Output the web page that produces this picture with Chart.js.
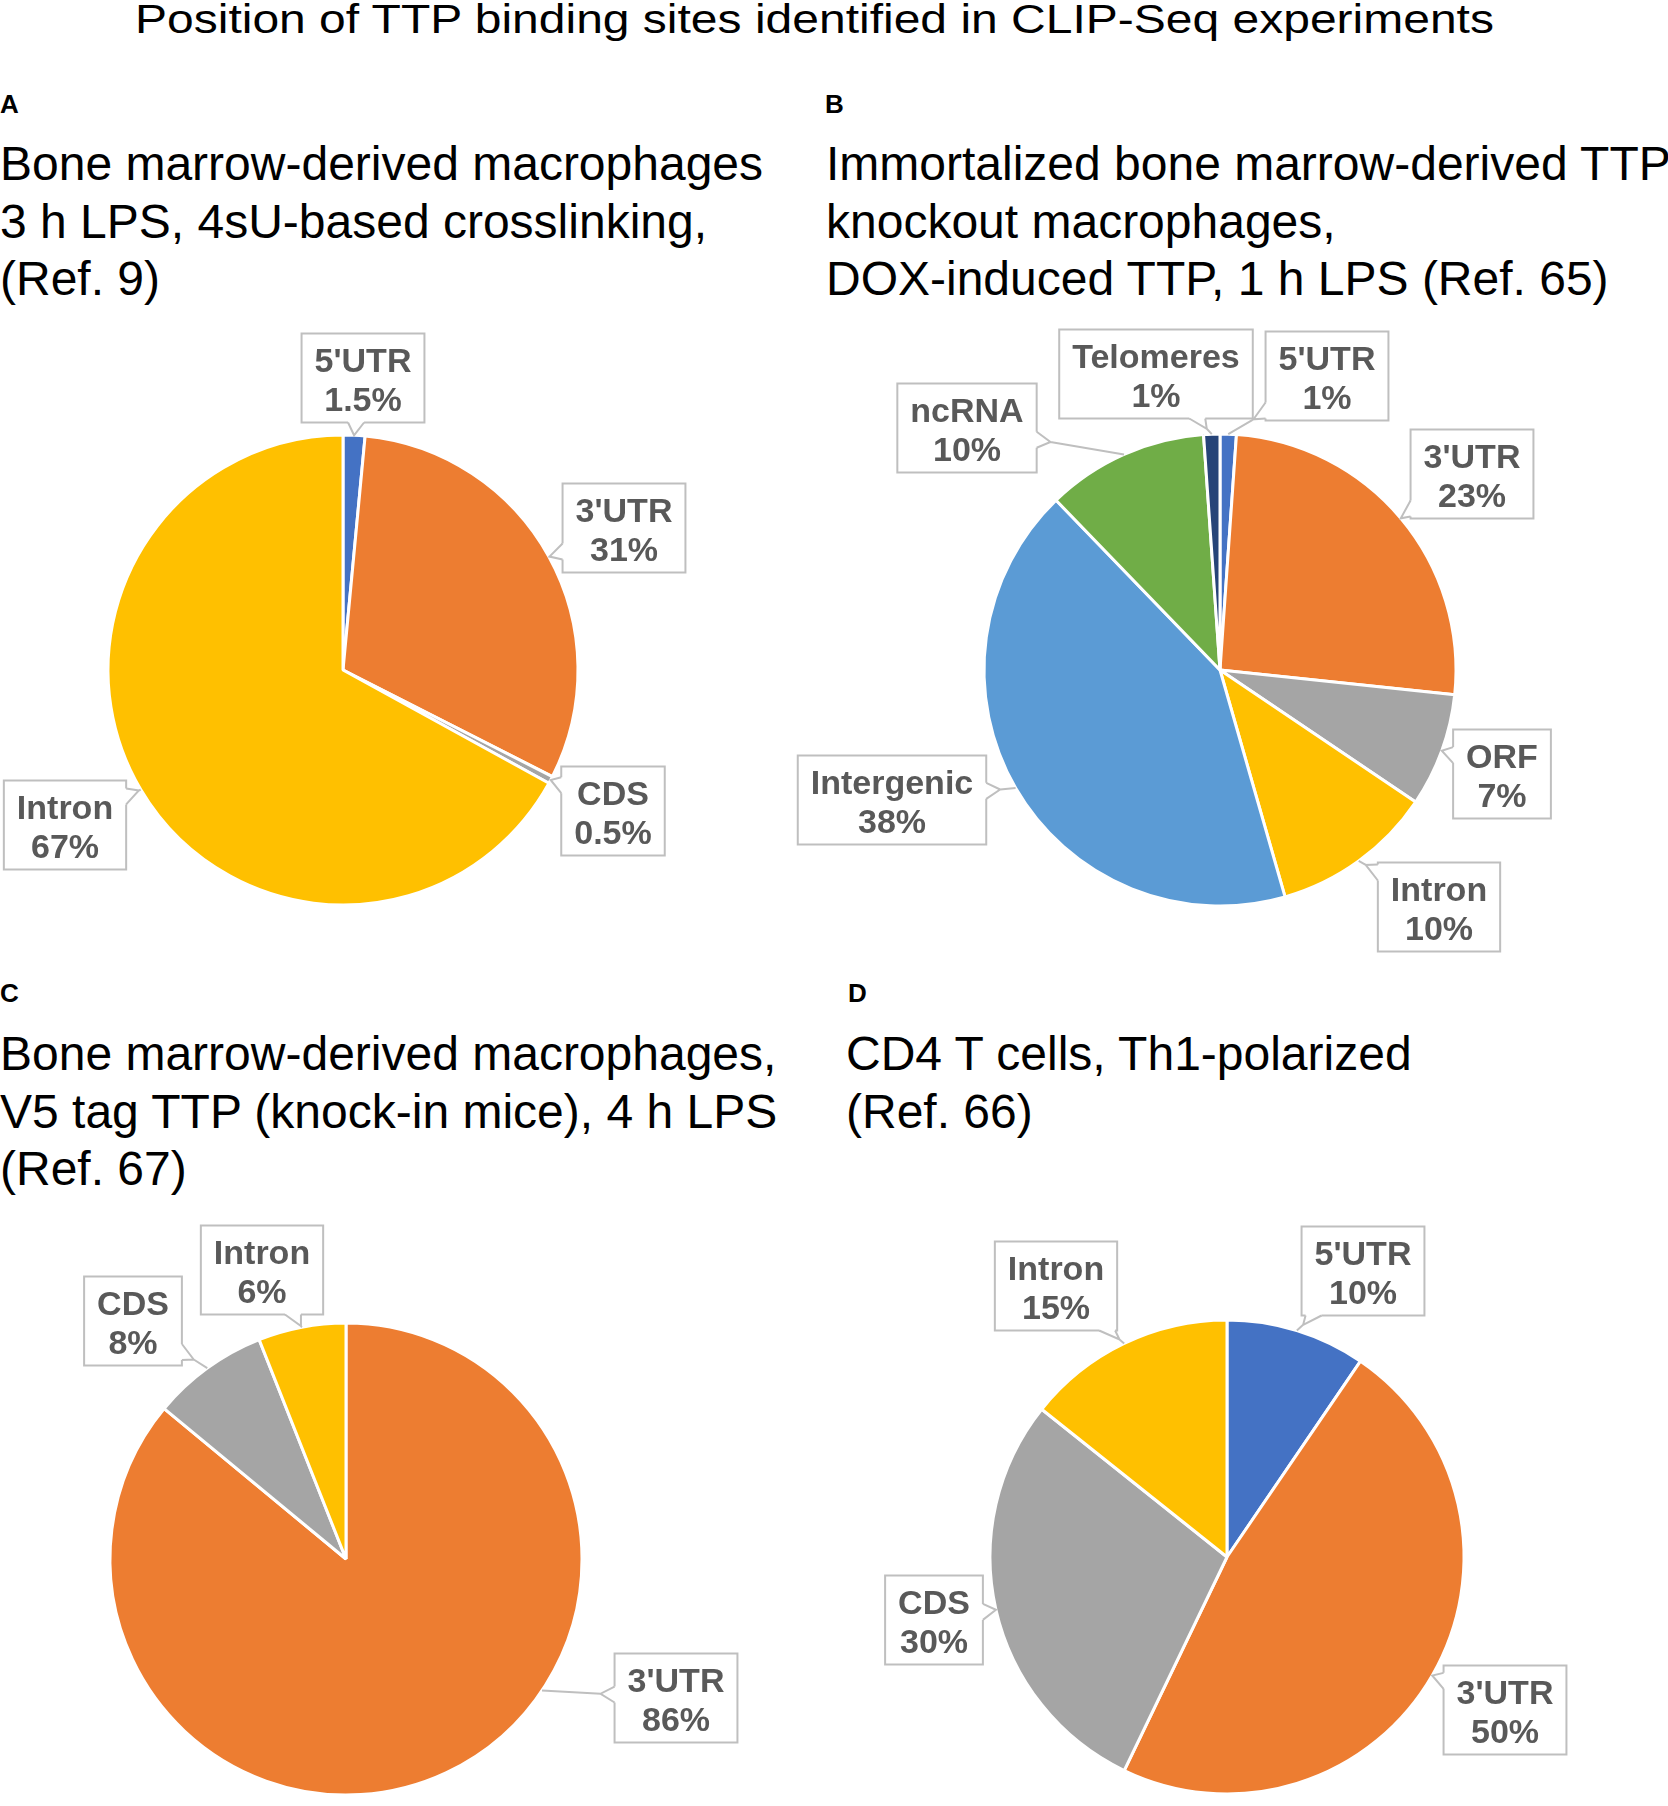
<!DOCTYPE html>
<html>
<head>
<meta charset="utf-8">
<script src="https://cdn.jsdelivr.net/npm/chart.js@4.4.1/dist/chart.umd.min.js"></script>
<style>
  html, body { margin: 0; padding: 0; background: #fff; }
  #page { position: relative; width: 1668px; height: 1806px; overflow: hidden; font-family: "Liberation Sans", Arial, sans-serif; color: #000; }
  .main { position: absolute; left: 135px; top: -12px; font-size: 48px; line-height: 57.5px; white-space: nowrap; transform: scaleY(0.86); transform-origin: 0 45px; }
  .letter { position: absolute; font-size: 26px; line-height: 26px; font-weight: bold; }
  .ptitle { position: absolute; font-size: 48px; line-height: 57.5px; white-space: nowrap; }
  canvas { position: absolute; }
</style>
</head>
<body>
<div id="page">
  <div class="main">Position of TTP binding sites identified in CLIP-Seq experiments</div>

  <div class="letter" style="left:0px; top:91px;">A</div>
  <div class="ptitle" style="left:0px; top:135px;">Bone marrow-derived macrophages<br>3 h LPS, 4sU-based crosslinking,<br>(Ref. 9)</div>

  <div class="letter" style="left:825px; top:91px;">B</div>
  <div class="ptitle" style="left:826px; top:135px;">Immortalized bone marrow-derived TTP<br>knockout macrophages,<br>DOX-induced TTP, 1 h LPS (Ref. 65)</div>

  <div class="letter" style="left:0px; top:980px;">C</div>
  <div class="ptitle" style="left:0px; top:1025px;">Bone marrow-derived macrophages,<br>V5 tag TTP (knock-in mice), 4 h LPS<br>(Ref. 67)</div>

  <div class="letter" style="left:848px; top:980px;">D</div>
  <div class="ptitle" style="left:846px; top:1025px;">CD4 T cells, Th1-polarized<br>(Ref. 66)</div>

  <canvas id="pieA" width="760" height="660" style="left:0px; top:300px;"></canvas>
  <canvas id="pieB" width="908" height="660" style="left:760px; top:300px;"></canvas>
  <canvas id="pieC" width="760" height="616" style="left:0px; top:1190px;"></canvas>
  <canvas id="pieD" width="908" height="616" style="left:760px; top:1190px;"></canvas>
</div>

<script>
// data (percent of binding sites)
const labelsA = ["5'UTR", "3'UTR", "CDS", "Intron"];
const valuesA = [1.5, 31, 0.5, 67];

const labelsB = ["5'UTR", "3'UTR", "ORF", "Intron", "Intergenic", "ncRNA", "Telomeres"];
const valuesB = [1, 23, 7, 10, 38, 10, 1];

const labelsC = ["3'UTR", "CDS", "Intron"];
const valuesC = [86, 8, 6];

const labelsD = ["5'UTR", "3'UTR", "CDS", "Intron"];
const valuesD = [10, 50, 30, 15];

// slice colours
const colorsA = ['#4472C4', '#ED7D31', '#A5A5A5', '#FFC000'];
const colorsB = ['#4472C4', '#ED7D31', '#A5A5A5', '#FFC000', '#5B9BD5', '#70AD47', '#264478'];
const colorsC = ['#ED7D31', '#A5A5A5', '#FFC000'];
const colorsD = ['#4472C4', '#ED7D31', '#A5A5A5', '#FFC000'];

// callout box centres, offset from the pie centre (px)
const boxesA = [[20, -292], [281, -142], [270, 141], [-278, 155]];
const boxesB = [[107, -294], [252, -196], [282, 104], [219, 237], [-328, 130], [-253, -242], [-64, -296]];
const boxesC = [[330, 139], [-213, -238], [-84, -289]];
const boxesD = [[136, -286], [278, 153], [-293, 63], [-171, -271]];

// where along the slice the leader points (0 = start, 1 = end), default middle
const anchorsC = [0.40, 0.5, 0.5];

// pie placement on the page
const panelA = { left: 0, top: 300, width: 760, height: 660, cx: 343, cy: 670, r: 235 };
const panelB = { left: 760, top: 300, width: 908, height: 660, cx: 1220, cy: 670, r: 236 };
const panelC = { left: 0, top: 1190, width: 760, height: 616, cx: 346, cy: 1559, r: 236 };
const panelD = { left: 760, top: 1190, width: 908, height: 616, cx: 1227, cy: 1557, r: 237 };

const calloutPlugin = {
	id: 'callouts',
	afterDraw(chart, args, opts) {
		const ctx = chart.ctx;
		const meta = chart.getDatasetMeta(0);
		const labels = chart.data.labels;
		const values = chart.data.datasets[0].data;
		const h = 89;
		ctx.save();
		ctx.font = 'bold 34px "Liberation Sans", Arial, sans-serif';
		meta.data.forEach((arc, i) => {
			const p = arc.getProps(['x', 'y', 'startAngle', 'endAngle', 'outerRadius'], true);
			const f = (opts.anchors && opts.anchors[i] != null) ? opts.anchors[i] : 0.5;
			const a = p.startAngle + (p.endAngle - p.startAngle) * f;
			const tx = p.x + Math.cos(a) * p.outerRadius;
			const ty = p.y + Math.sin(a) * p.outerRadius;
			const bx = p.x + opts.boxes[i][0];
			const by = p.y + opts.boxes[i][1];
			const line1 = labels[i];
			const line2 = values[i] + '%';
			const w = Math.max(ctx.measureText(line1).width, ctx.measureText(line2).width) + 26;

			// box
			ctx.fillStyle = '#fff';
			ctx.strokeStyle = '#BFBFBF';
			ctx.lineWidth = 2;
			ctx.fillRect(bx - w / 2, by - h / 2, w, h);
			ctx.strokeRect(bx - w / 2, by - h / 2, w, h);

			// pointer from box edge to slice
			const dx = tx - bx, dy = ty - by;
			const tX = (w / 2) / Math.max(Math.abs(dx), 1e-6);
			const tY = (h / 2) / Math.max(Math.abs(dy), 1e-6);
			const t = Math.min(tX, tY);
			if (t < 1) {
				const ex = bx + dx * t, ey = by + dy * t;
				const dist = Math.hypot(dx, dy);
				const len = dist * (1 - t);
				const ux = dx / dist, uy = dy / dist;
				const tipLen = Math.min(14, len);
				const tipX = ex + ux * tipLen, tipY = ey + uy * tipLen;
				let b1, b2, i1, i2;
				if (tX <= tY) {
					const yy = Math.min(Math.max(ey, by - h / 2 + 10), by + h / 2 - 10);
					const sx = Math.sign(dx);
					b1 = [ex, yy - 8]; b2 = [ex, yy + 8];
					i1 = [ex - sx * 2, yy - 8]; i2 = [ex - sx * 2, yy + 8];
				} else {
					const xx = Math.min(Math.max(ex, bx - w / 2 + 10), bx + w / 2 - 10);
					const sy = Math.sign(dy);
					b1 = [xx - 8, ey]; b2 = [xx + 8, ey];
					i1 = [xx - 8, ey - sy * 2]; i2 = [xx + 8, ey - sy * 2];
				}
				ctx.beginPath();
				ctx.moveTo(i1[0], i1[1]);
				ctx.lineTo(b1[0], b1[1]);
				ctx.lineTo(tipX, tipY);
				ctx.lineTo(b2[0], b2[1]);
				ctx.lineTo(i2[0], i2[1]);
				ctx.closePath();
				ctx.fill();
				ctx.beginPath();
				ctx.moveTo(b1[0], b1[1]);
				ctx.lineTo(tipX, tipY);
				ctx.lineTo(b2[0], b2[1]);
				if (len > tipLen) {
					ctx.moveTo(tipX, tipY);
					ctx.lineTo(tx, ty);
				}
				ctx.stroke();
			}

			// text
			ctx.fillStyle = '#595959';
			ctx.textAlign = 'center';
			ctx.textBaseline = 'alphabetic';
			ctx.fillText(line1, bx, by - 6);
			ctx.fillText(line2, bx, by + 33);
		});
		ctx.restore();
	}
};

function makePie(id, panel, labels, values, colors, boxes, anchors) {
	const cx = panel.cx - panel.left;
	const cy = panel.cy - panel.top;
	return new Chart(document.querySelector(id), {
		type: 'pie',
		data: {
			labels: labels,
			datasets: [{
				data: values,
				backgroundColor: colors,
				borderColor: '#fff',
				borderWidth: 3,
				hoverOffset: 0,
				radius: panel.r
			}]
		},
		options: {
			responsive: false,
			animation: false,
			events: [],
			layout: {
				padding: {
					left: cx - panel.r,
					right: panel.width - cx - panel.r,
					top: cy - panel.r,
					bottom: panel.height - cy - panel.r
				}
			},
			plugins: {
				legend: { display: false },
				tooltip: { enabled: false },
				callouts: { boxes: boxes, anchors: anchors }
			}
		},
		plugins: [calloutPlugin]
	});
}

makePie('#pieA', panelA, labelsA, valuesA, colorsA, boxesA, null);
makePie('#pieB', panelB, labelsB, valuesB, colorsB, boxesB, null);
makePie('#pieC', panelC, labelsC, valuesC, colorsC, boxesC, anchorsC);
makePie('#pieD', panelD, labelsD, valuesD, colorsD, boxesD, null);
</script>
</body>
</html>
